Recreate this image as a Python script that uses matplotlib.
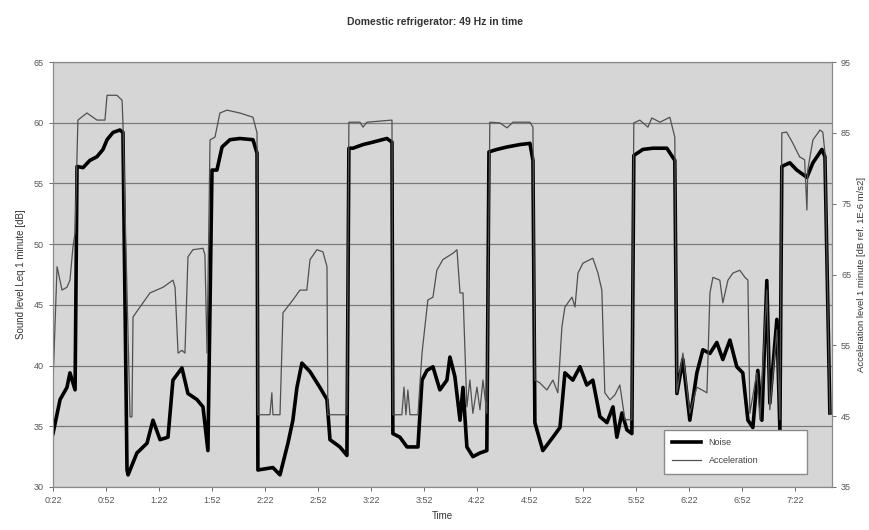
import matplotlib
matplotlib.use("Agg")
import matplotlib.pyplot as plt
from matplotlib.lines import Line2D

plt.rcParams['font.family'] = ['Liberation Sans', 'DejaVu Sans']

# time in minutes after 0:00
noise_t = [22.0, 26.0, 29.9, 31.6, 34.5, 35.6, 39.0, 42.9, 46.9, 50.3, 52.6, 56.0, 59.9, 61.6,
           63.9, 64.5, 69.5, 75.2, 78.6, 82.6, 87.1, 89.9, 95.0, 98.4, 103.5, 106.9, 109.7,
           112.0, 114.8, 117.7, 122.2, 127.8, 135.2, 137.5, 138.0, 146.5, 150.5, 155.0, 157.8,
           160.1, 162.9, 167.5, 173.1, 177.1, 178.8, 184.4, 188.4, 189.5, 191.8, 197.5, 203.1,
           211.0, 213.9, 214.4, 218.4, 222.4, 228.6, 230.9, 233.7, 237.1, 241.0, 245.0, 246.7,
           249.5, 252.4, 254.1, 256.3, 259.7, 263.7, 267.6, 268.8, 273.3, 279.0, 286.3, 292.0,
           293.7, 294.8, 299.3, 305.0, 309.0, 311.8, 316.3, 320.3, 324.2, 327.6, 331.6, 335.6,
           339.0, 341.2, 344.1, 346.9, 349.7, 350.8, 355.9, 361.6, 369.5, 374.0, 375.2, 378.6,
           382.5, 386.5, 389.9, 393.9, 397.8, 401.2, 405.2, 409.1, 412.5, 415.4, 418.2, 421.0,
           423.3, 426.1, 427.8, 431.8, 433.5, 434.6, 439.1, 443.1, 448.8, 452.2, 457.3, 459.0,
           461.8]
noise_db = [34.4, 37.2, 38.2, 39.4, 38.0, 56.4, 56.3, 56.9, 57.2, 57.8, 58.6, 59.2, 59.4, 59.2,
            31.4, 31.0, 32.8, 33.6, 35.5, 33.9, 34.1, 38.8, 39.8, 37.7, 37.2, 36.6, 33.0,
            56.1, 56.1, 58.0, 58.6, 58.7, 58.6, 57.5, 31.4, 31.6, 31.0, 33.6, 35.5,
            38.2, 40.2, 39.5, 38.2, 37.2, 33.9, 33.3, 32.6, 57.9, 57.9, 58.2, 58.4,
            58.7, 58.4, 34.4, 34.1, 33.3, 33.3, 38.8, 39.6, 39.9, 38.0, 38.8, 40.7,
            39.1, 35.5, 38.2, 33.3, 32.5, 32.8, 33.0, 57.6, 57.8, 58.0, 58.2, 58.3,
            56.9, 35.3, 33.0, 34.1, 34.9, 39.4, 38.8, 39.9, 38.4, 38.8, 35.8, 35.3,
            36.6, 34.1, 36.1, 34.7, 34.4, 57.3, 57.8, 57.9, 57.9, 56.9, 37.7, 40.5,
            35.5, 39.4, 41.3, 41.0, 41.9, 40.5, 42.1, 39.9, 39.4, 35.5, 34.9, 39.6,
            35.5, 47.0, 36.9, 43.8, 34.7, 56.4, 56.7, 56.1, 55.5, 56.7, 57.8, 57.2,
            36.1]

accel_t = [22.0, 24.3, 27.1, 29.9, 31.6, 33.3, 34.5, 36.1, 41.2, 46.9, 51.4, 52.6, 58.2, 61.1,
           61.6, 65.6, 66.7, 67.3, 71.2, 76.9, 84.3, 89.9, 91.1, 92.8, 95.0, 96.7, 98.4, 101.2,
           106.9, 108.0, 109.2, 110.9, 113.7, 116.5, 120.5, 127.8, 135.2, 137.5, 138.0, 144.8,
           145.9, 146.5, 150.5, 152.2, 157.8, 161.8, 165.7, 167.5, 171.4, 174.8, 177.1, 177.6,
           188.4, 189.5, 195.8, 197.5, 199.7, 213.9, 214.4, 219.5, 220.7, 221.8, 222.9, 224.1,
           228.6, 230.9, 234.2, 237.1, 239.3, 242.7, 248.4, 250.7, 252.4, 254.1, 256.3, 258.0,
           259.7, 262.0, 263.7, 265.4, 267.6, 269.3, 275.0, 279.0, 282.4, 292.0, 293.7, 294.8,
           297.6, 301.6, 305.0, 307.8, 310.1, 311.8, 315.8, 317.5, 319.2, 322.0, 327.6, 330.5,
           332.7, 334.4, 337.3, 340.1, 342.9, 345.8, 349.7, 350.8, 354.2, 358.8, 361.0, 365.6,
           371.2, 374.0, 375.2, 378.6, 382.5, 386.5, 392.2, 393.9, 395.6, 399.5, 401.2, 404.1,
           406.9, 410.8, 413.7, 415.4, 416.5, 420.4, 422.2, 426.1, 427.8, 431.8, 433.5, 434.6,
           437.3, 440.7, 444.7, 447.5, 448.8, 449.3, 452.2, 456.2, 457.8, 459.0, 461.8]
accel_db = [49.7, 66.1, 62.8, 63.2, 64.2, 68.9, 70.9, 86.8, 87.8, 86.8, 86.8, 90.3, 90.3, 89.6,
            86.4, 44.9, 44.9, 59.0, 60.4, 62.4, 63.2, 64.2, 63.2, 53.9, 54.3, 53.9, 67.5, 68.5,
            68.7, 67.8, 53.9, 84.0, 84.4, 87.8, 88.2, 87.8, 87.2, 85.0, 45.2, 45.2,
            48.3, 45.2, 45.2, 59.6, 61.4, 62.8, 62.8, 67.1, 68.5, 68.2, 66.1, 45.2,
            45.2, 86.5, 86.5, 85.8, 86.5, 86.8, 45.2, 45.2, 49.1, 45.2, 48.7, 45.2,
            45.2, 53.9, 61.4, 61.8, 65.6, 67.1, 68.0, 68.5, 62.4, 62.4, 46.3, 50.1,
            45.4, 49.1, 45.9, 50.1, 45.4, 86.5, 86.4, 85.7, 86.5, 86.5, 85.8, 50.1,
            49.7, 48.7, 50.1, 48.3, 57.6, 60.4, 61.8, 60.4, 65.2, 66.6, 67.3, 65.2,
            62.8, 48.3, 47.3, 48.0, 49.4, 44.5, 44.5, 86.4, 86.8, 85.8, 87.1, 86.5,
            87.2, 84.4, 48.3, 53.9, 45.4, 49.1, 48.3, 62.4, 64.6, 64.2, 61.0, 64.2,
            65.2, 65.6, 64.6, 64.2, 45.4, 51.1, 44.5, 62.8, 45.9, 57.2, 44.5, 85.0,
            85.1, 83.6, 81.6, 81.2, 74.1, 79.8, 84.0, 85.4, 85.1, 82.2, 45.4]

time_labels = ["0:22", "0:52", "1:22", "1:52", "2:22", "2:52", "3:22", "3:52",
               "4:22", "4:52", "5:22", "5:52", "6:22", "6:52", "7:22"]
tick_pos = [int(s.split(":")[0]) * 60 + int(s.split(":")[1]) for s in time_labels]

fig = plt.figure(figsize=(8.7, 5.3), dpi=100)
ax = fig.add_axes([53/870, 1 - 487/530, 779/870, 425/530])
ax.set_facecolor("#d6d6d6")
ax.plot(noise_t, noise_db, color="black", lw=2.6, zorder=3)
ax.set_xlim(22, 463)
ax.set_ylim(30, 65)
ax.set_yticks(range(30, 66, 5))
ax.set_xticks(tick_pos)
ax.set_xticklabels(time_labels)
ax.grid(axis="y", color="#7a7a7a", lw=0.9)
ax.set_axisbelow(True)
for s in ax.spines.values():
    s.set_color("#8a8a8a")
ax.tick_params(labelsize=6.5, colors="#555555", length=3, width=0.6)
ax.set_xlabel("Time", fontsize=7, color="#333333", labelpad=4)
ax.set_ylabel("Sound level Leq 1 minute [dB]", fontsize=7, color="#333333", labelpad=6)

ax2 = ax.twinx()
ax2.plot(accel_t, accel_db, color="#505050", lw=0.9)
ax2.set_ylim(35, 95)
ax2.set_yticks(range(35, 96, 10))
ax2.tick_params(labelsize=6.5, colors="#555555", length=3, width=0.6)
for s in ax2.spines.values():
    s.set_color("#8a8a8a")
ax2.set_ylabel("Acceleration level 1 minute [dB ref. 1E-6 m/s2]", fontsize=6.8,
               color="#333333", labelpad=4)

handles = [Line2D([], [], color="black", lw=2.6), Line2D([], [], color="#505050", lw=0.9)]
leg = ax2.legend(handles, ["Noise", "Acceleration"], loc="lower left",
                 bbox_to_anchor=(0.779, 0.021, 0.195, 0.113), mode="expand",
                 fontsize=6.5, fancybox=False, framealpha=1, edgecolor="#8a8a8a",
                 handlelength=3.2, borderpad=0.9, labelspacing=1.0)
for t in leg.get_texts():
    t.set_color("#444444")

fig.suptitle("Domestic refrigerator: 49 Hz in time", y=0.968, fontsize=7.5,
             fontweight="bold", color="#333333")

fig.savefig("out.png", dpi=100)
